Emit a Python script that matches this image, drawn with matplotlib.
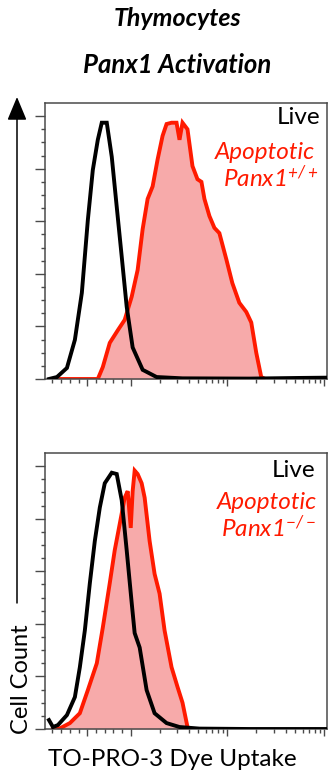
import numpy as np
import matplotlib
matplotlib.use("Agg")
import matplotlib.pyplot as plt
from matplotlib.ticker import FixedLocator, NullFormatter

# ---------------- data (fluorescence value, cell count) ----------------
# Panx1 +/+ : live (black)
wt_live_x = [-880, -696, -467, -284, -124, 14, 128, 243, 334, 449, 564, 678, 793, 907,
             1047, 1328, 1851, 3433, 16840, 55185, 104740]
wt_live_y = [0, 1.5, 8.4, 29.8, 65.6, 121, 159, 182, 195, 195, 169, 131, 93, 55,
             24, 7, 1.5, 0.5, 0.3, 0.8, 1]
# Panx1 +/+ : apoptotic (red)
wt_apo_x = [-788, 243, 357, 518, 701, 861, 1023, 1179, 1328, 1495, 1684, 1896, 2135, 2348,
            2644, 2977, 3196, 3433, 3865, 4352, 4900, 5387, 5787, 6515, 7337, 8260, 9754,
            11246, 13281, 15683, 17655, 19883, 22387, 24614, 104740]
wt_apo_y = [0, 0, 9, 27.5, 37, 45, 62.6, 83, 114, 137, 146.5, 167, 185, 194,
            195, 195, 182, 195, 190, 162, 152, 150, 137, 124, 115, 111, 91,
            73, 58, 51, 43, 20, 1.5, 0, 0]
# Panx1 -/- : live (black)
ko_live_x = [-880, -788, -674, -467, -284, -170, -55, 60, 174, 289, 403, 564, 678, 793, 907,
             1023, 1098, 1237, 1460, 1765, 2348, 3196, 5139, 16840, 104740]
ko_live_y = [6.8, 1.5, 3, 10.6, 24.3, 47, 75, 111, 143, 168.5, 187, 195, 194, 174, 136,
             96, 73, 62, 29.6, 12, 4.5, 1.5, 0.3, 0, 0]
# Panx1 -/- : apoptotic (red)
ko_apo_x = [-788, -628, -399, -170, 14, 220, 357, 518, 632, 747, 861, 930, 1000, 1047,
            1098, 1179, 1297, 1393, 1568, 1765, 1988, 2239, 2644, 3048, 3433, 3865, 4249]
ko_apo_y = [0, 0.5, 4.5, 12, 29.6, 50, 77, 111, 136, 156, 176, 181, 153, 181,
            196.6, 194, 187, 176, 143, 118, 103, 75, 47, 32, 20, 1.5, 0]

genotype_labels = ["Panx1$^{+/+}$", "Panx1$^{-/-}$"]
title_lines = ["Thymocytes", "Panx1 Activation"]
x_label = "TO-PRO-3 Dye Uptake"
y_label = "Cell Count"

x_major = [-1000, 0, 1000, 10000, 100000]
x_minor = ([-800, -600, -400, -200, 200, 400, 600, 800]
           + [m * 1000 for m in range(2, 10)] + [m * 10000 for m in range(2, 10)])
y_major = [0, 40, 80, 120, 160, 200]
y_minor = list(range(10, 210, 10))

# ---------------- figure ----------------
W, H = 328, 776
fig = plt.figure(figsize=(W / 100, H / 100), dpi=100)
plt.rcParams['font.family'] = ['Lato', 'DejaVu Sans']
plt.rcParams['mathtext.fontset'] = 'custom'
plt.rcParams['mathtext.rm'] = 'Lato:italic'
plt.rcParams['mathtext.it'] = 'Lato:italic'

RED = "#ff1a00"
FILL = "#f7aaaa"
SPINE = "#4a4a4a"
LW = 2.8
FS = 17.5


def px_axes(left, top, right, bottom):
    return [left / W, 1 - bottom / H, (right - left) / W, (bottom - top) / H]


panels = [
    (px_axes(45, 103, 327, 379), wt_live_x, wt_live_y, wt_apo_x, wt_apo_y, genotype_labels[0],
     [(0.975, 0.946), (0.957, 0.822), (0.968, 0.728)]),
    (px_axes(45, 453, 327, 729), ko_live_x, ko_live_y, ko_apo_x, ko_apo_y, genotype_labels[1],
     [(0.960, 0.938), (0.963, 0.819), (0.960, 0.728)]),
]

for rect, lx, ly, ax_, ay_, glabel, tpos in panels:
    ax = fig.add_axes(rect)
    ax.set_xscale('symlog', linthresh=1000, linscale=0.405)
    ax.fill_between(ax_, ay_, 0, color=FILL, lw=0, zorder=1)
    ax.plot(ax_, ay_, color=RED, lw=LW, zorder=2, solid_joinstyle='miter')
    ax.plot(lx, ly, color="black", lw=LW, zorder=3, solid_joinstyle='miter')
    ax.set_xlim(-971, 107250)
    ax.set_ylim(0, 210)
    ax.xaxis.set_major_locator(FixedLocator(x_major))
    ax.xaxis.set_minor_locator(FixedLocator(x_minor))
    ax.yaxis.set_major_locator(FixedLocator(y_major))
    ax.yaxis.set_minor_locator(FixedLocator(y_minor))
    ax.xaxis.set_major_formatter(NullFormatter())
    ax.xaxis.set_minor_formatter(NullFormatter())
    ax.yaxis.set_major_formatter(NullFormatter())
    ax.tick_params(axis='both', which='both', direction='out', color=SPINE, width=1.0)
    ax.tick_params(axis='y', which='major', length=7)
    ax.tick_params(axis='y', which='minor', length=3)
    ax.tick_params(axis='x', which='major', length=5)
    ax.tick_params(axis='x', which='minor', length=3)
    for s in ax.spines.values():
        s.set_color(SPINE)
        s.set_linewidth(1.1)
    ax.text(*tpos[0], "Live", transform=ax.transAxes, ha='right', va='center',
            fontsize=FS, color="black")
    ax.text(*tpos[1], "Apoptotic", transform=ax.transAxes, ha='right', va='center',
            fontsize=FS, color=RED, style='italic')
    ax.text(*tpos[2], glabel, transform=ax.transAxes, ha='right', va='center',
            fontsize=FS, color=RED, style='italic')

fig.text(177 / W, 1 - 18 / H, title_lines[0], ha='center', va='center',
         fontsize=18, weight='bold', style='italic')
fig.text(177 / W, 1 - 65 / H, title_lines[1], ha='center', va='center',
         fontsize=18.5, weight='bold', style='italic')
fig.text(172 / W, 1 - 760 / H, x_label, ha='center', va='center', fontsize=17.5)
fig.text(22 / W, 1 - 679 / H, y_label, ha='center', va='center', fontsize=17,
         rotation=90)

fig.add_artist(matplotlib.patches.FancyArrowPatch(
    (17 / W, 1 - 603 / H), (17 / W, 1 - 97 / H), transform=fig.transFigure,
    arrowstyle='-|>,head_length=1.2,head_width=0.5', mutation_scale=12,
    color='black', lw=1.1, shrinkA=0, shrinkB=0))

fig.savefig("out.png", dpi=100)
